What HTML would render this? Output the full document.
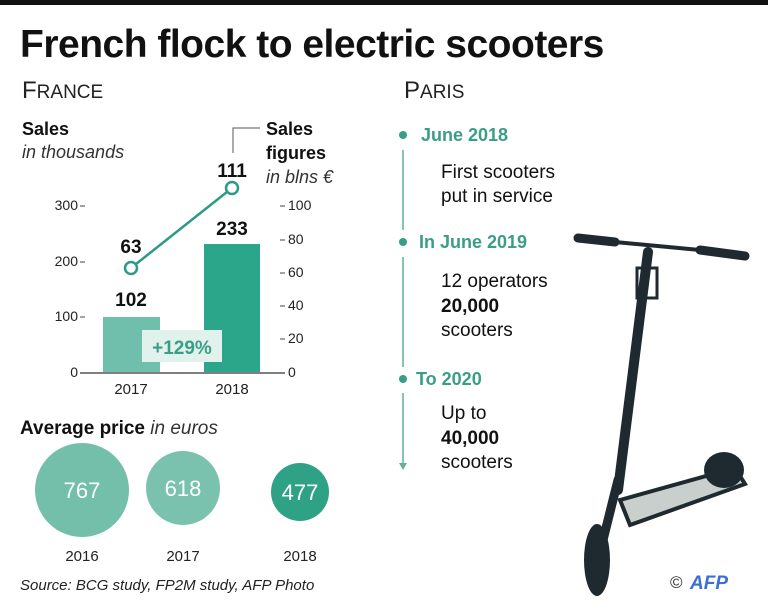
<!DOCTYPE html>
<html><head><meta charset="utf-8"><style>
body{margin:0;width:768px;height:608px;background:#fff;overflow:hidden;font-family:"Liberation Sans",sans-serif}
svg text{font-family:"Liberation Sans",sans-serif}
</style></head><body>
<svg width="768" height="608" viewBox="0 0 768 608" xmlns="http://www.w3.org/2000/svg">
<rect x="0" y="0" width="768" height="5" fill="#111"/>
<text x="20" y="57" font-size="39" font-weight="bold" fill="#111" letter-spacing="-0.5">French flock to electric scooters</text>
<text x="22" y="98" font-size="24" fill="#222">F<tspan font-size="19">RANCE</tspan></text>
<text x="404" y="98" font-size="24" fill="#222">P<tspan font-size="19">ARIS</tspan></text>
<text x="22" y="135" font-size="18" font-weight="bold" fill="#111">Sales</text>
<text x="22" y="158" font-size="18" font-style="italic" fill="#333">in thousands</text>
<text x="266" y="135" font-size="18" font-weight="bold" fill="#111">Sales</text>
<text x="266" y="159" font-size="18" font-weight="bold" fill="#111">figures</text>
<text x="266" y="183" font-size="18" font-style="italic" fill="#333">in blns €</text>
<polyline points="233,153 233,128 260,128" fill="none" stroke="#555" stroke-width="1"/>
<g font-size="14" fill="#222">
<text x="78" y="210" text-anchor="end">300</text><line x1="80" y1="206" x2="85" y2="206" stroke="#444"/>
<text x="78" y="266" text-anchor="end">200</text><line x1="80" y1="262" x2="85" y2="262" stroke="#444"/>
<text x="78" y="321" text-anchor="end">100</text><line x1="80" y1="317" x2="85" y2="317" stroke="#444"/>
<text x="78" y="377" text-anchor="end">0</text>
<text x="288" y="210">100</text><line x1="280" y1="206" x2="285" y2="206" stroke="#444"/>
<text x="288" y="244">80</text><line x1="280" y1="240" x2="285" y2="240" stroke="#444"/>
<text x="288" y="277">60</text><line x1="280" y1="273" x2="285" y2="273" stroke="#444"/>
<text x="288" y="310">40</text><line x1="280" y1="306" x2="285" y2="306" stroke="#444"/>
<text x="288" y="343">20</text><line x1="280" y1="339" x2="285" y2="339" stroke="#444"/>
<text x="288" y="377">0</text>
</g>
<rect x="103" y="317" width="57" height="55" fill="#6fbfac"/>
<rect x="204" y="244" width="56" height="128" fill="#2ba68b"/>
<line x1="80" y1="373" x2="285" y2="373" stroke="#333" stroke-width="1.2"/>
<rect x="142" y="330" width="80" height="32" fill="#e1f2ec"/>
<text x="182" y="354" font-size="19" font-weight="bold" fill="#3a9e86" text-anchor="middle">+129%</text>
<line x1="131" y1="268" x2="232" y2="188" stroke="#2e9a85" stroke-width="2.5"/>
<circle cx="131" cy="268" r="6" fill="#fff" stroke="#2e9a85" stroke-width="2.5"/>
<circle cx="232" cy="188" r="6" fill="#fff" stroke="#2e9a85" stroke-width="2.5"/>
<g font-size="19" font-weight="bold" fill="#111" text-anchor="middle">
<text x="131" y="253">63</text><text x="232" y="177">111</text>
<text x="131" y="306">102</text><text x="232" y="235">233</text>
</g>
<g font-size="15" fill="#222" text-anchor="middle">
<text x="131" y="394">2017</text><text x="232" y="394">2018</text>
</g>
<text x="20" y="434" font-size="19" fill="#111"><tspan font-weight="bold">Average price</tspan> <tspan font-style="italic" fill="#333">in euros</tspan></text>
<circle cx="82" cy="490" r="47" fill="#74bfa9"/>
<circle cx="183" cy="488" r="37" fill="#7ac2ad"/>
<circle cx="300" cy="492" r="29" fill="#2fa286"/>
<g font-size="22" fill="#fff" text-anchor="middle">
<text x="82" y="498">767</text><text x="183" y="496">618</text><text x="300" y="500">477</text>
</g>
<g font-size="15" fill="#222" text-anchor="middle">
<text x="82" y="561">2016</text><text x="183" y="561">2017</text><text x="300" y="561">2018</text>
</g>
<text x="20" y="590" font-size="15" font-style="italic" fill="#222">Source: BCG study,  FP2M study, AFP Photo</text>
<g fill="#3a9e86">
<circle cx="403" cy="135" r="4"/><circle cx="403" cy="242" r="4"/><circle cx="403" cy="379" r="4"/>
</g>
<g stroke="#5fb09d" stroke-width="1.5">
<line x1="403" y1="150" x2="403" y2="230"/><line x1="403" y1="257" x2="403" y2="367"/><line x1="403" y1="393" x2="403" y2="468"/>
</g>
<polygon points="399,463 407,463 403,470" fill="#5fb09d"/>
<g font-size="18" font-weight="bold" fill="#3a9e86">
<text x="421" y="141">June 2018</text><text x="419" y="248">In June 2019</text><text x="416" y="385">To 2020</text>
</g>
<g font-size="19" fill="#111">
<text x="441" y="178">First scooters</text><text x="441" y="202">put in service</text>
<text x="441" y="287">12 operators</text><text x="441" y="312" font-weight="bold">20,000</text><text x="441" y="336">scooters</text>
<text x="441" y="419">Up to</text><text x="441" y="444" font-weight="bold">40,000</text><text x="441" y="468">scooters</text>
</g>
<g stroke="#1f2a30" fill="none" stroke-linecap="round">
<line x1="578" y1="238" x2="615" y2="242" stroke-width="9"/>
<line x1="615" y1="242" x2="700" y2="250" stroke-width="4"/>
<line x1="700" y1="250" x2="745" y2="256" stroke-width="9"/>
<line x1="648" y1="252" x2="618" y2="490" stroke-width="10"/>
<rect x="637" y="268" width="20" height="30" stroke-width="3"/>
<line x1="618" y1="480" x2="598" y2="560" stroke-width="9"/>
</g>
<ellipse cx="597" cy="560" rx="13" ry="36" fill="#1f2a30"/>
<polygon points="620,500 735,468 745,484 630,525" fill="#c9cfcc" stroke="#1f2a30" stroke-width="4"/>
<ellipse cx="724" cy="470" rx="20" ry="18" fill="#1f2a30"/>
<text x="670" y="588" font-size="17" fill="#333">©</text>
<text x="690" y="589" font-size="19" font-weight="bold" font-style="italic" fill="#3b6fd6">AFP</text>
</svg>
</body></html>
